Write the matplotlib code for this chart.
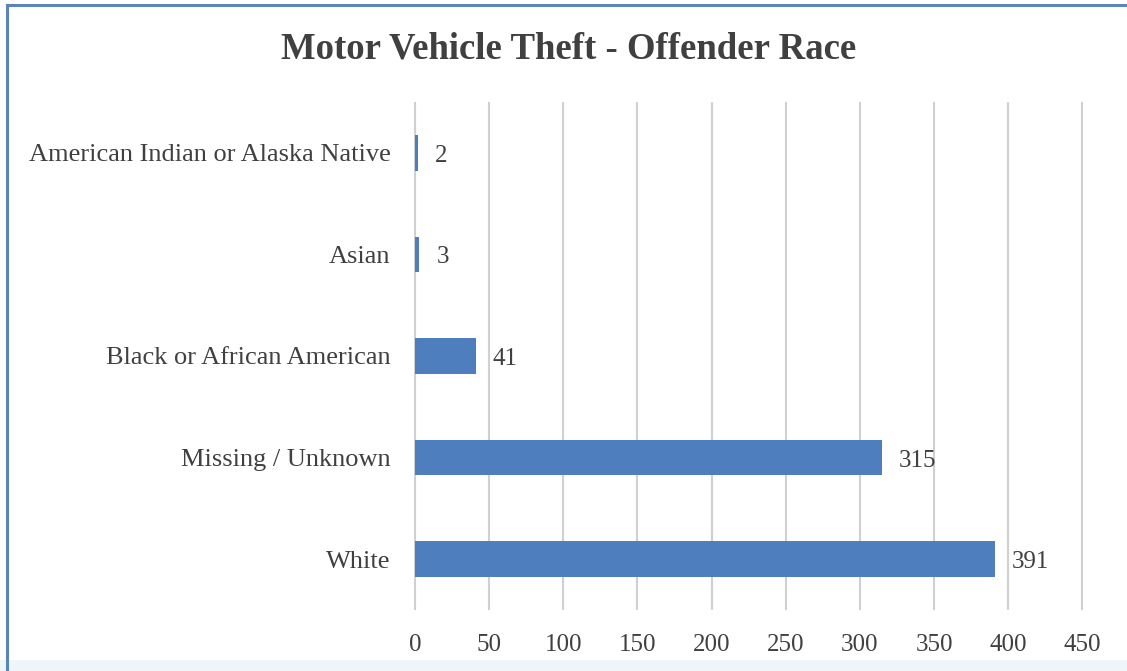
import matplotlib.pyplot as plt
from matplotlib.lines import Line2D
from matplotlib.patches import Rectangle

categories = ["White", "Missing / Unknown", "Black or African American", "Asian",
              "American Indian or Alaska Native"]
values = [391, 315, 41, 3, 2]
xticks = [0, 50, 100, 150, 200, 250, 300, 350, 400, 450]

plt.rcParams["font.family"] = ["Liberation Serif", "DejaVu Serif"]
text_color = "#404040"

fig = plt.figure(figsize=(11.27, 6.71), dpi=100)

# franja inferior clara, como en la captura original
fig.patches.append(Rectangle((0, 0), 1, 0.016, transform=fig.transFigure,
                             facecolor="#eef6fa", edgecolor="none"))

ax = fig.add_axes([0.3676, 0.091, 0.5993, 0.757])

ax.barh(range(len(categories)), values, height=0.35, color="#4f7ebe", zorder=3)
for i, v in enumerate(values):
    ax.text(v + 11.5, i - 0.03, str(v), va="center", ha="left", fontsize=18, color=text_color)

ax.set_yticks(range(len(categories)))
ax.set_yticklabels(categories, fontsize=19, color=text_color)
ax.set_xticks(xticks)
ax.set_xticklabels([str(t) for t in xticks], fontsize=18, color=text_color)
ax.set_xlim(-0.5, 455)
ax.set_ylim(-0.5, 4.5)
ax.grid(axis="x", color="#d0d0d0", linewidth=1.5, zorder=0)
ax.tick_params(axis="y", length=0, pad=17)
ax.tick_params(axis="x", length=0, pad=17)
for s in ax.spines.values():
    s.set_visible(False)

fig.text(0.5045, 0.927, "Motor Vehicle Theft - Offender Race", ha="center", va="center",
         fontsize=26.5, fontweight="bold", color=text_color)

# marco azul (solo borde superior e izquierdo visibles)
borde = "#5b84b8"
fig.lines.append(Line2D([0.0062, 1.0], [0.9925, 0.9925], transform=fig.transFigure,
                        color=borde, linewidth=2.2))
fig.lines.append(Line2D([0.0062, 0.0062], [0.0, 0.9925], transform=fig.transFigure,
                        color=borde, linewidth=2.2))

fig.savefig("out.png", dpi=100)
